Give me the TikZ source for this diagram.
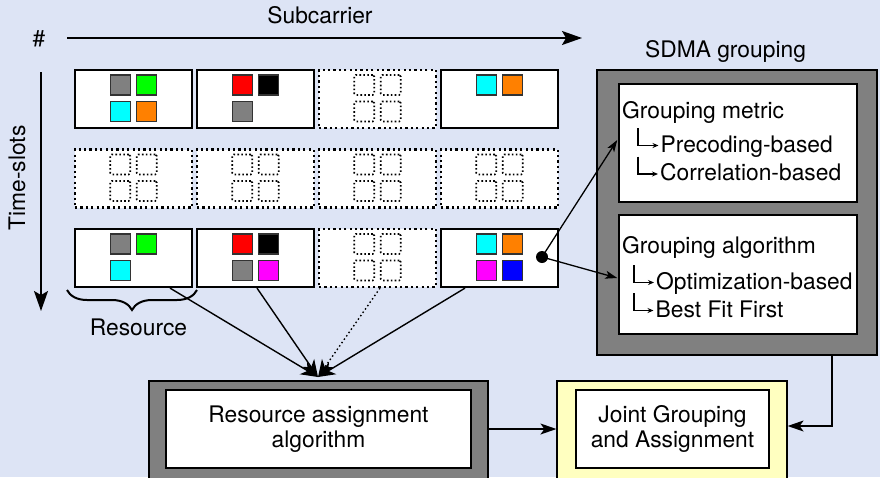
\documentclass[tikz,border=0pt]{standalone}
\usepackage{fontspec}
\setmainfont{TeX Gyre Heros}
\usetikzlibrary{arrows.meta,decorations.pathreplacing,calc}
\definecolor{canvas}{RGB}{221,228,245}
\definecolor{midgray}{RGB}{128,128,128}
\definecolor{paleyellow}{RGB}{255,255,192}
\definecolor{sqorange}{RGB}{255,128,0}
\definecolor{sqgreen}{RGB}{0,255,0}
\definecolor{sqcyan}{RGB}{0,255,255}
\definecolor{sqmagenta}{RGB}{255,0,255}
\definecolor{sqblue}{RGB}{0,0,255}
\definecolor{sqred}{RGB}{255,0,0}
\tikzset{
  slot/.style={draw, line width=2.2pt, fill=white, minimum width=117pt,
    minimum height=58pt, inner sep=0pt},
  emptyslot/.style={slot, line width=2.2pt, dash pattern=on 2.2pt off 3.2pt},
  sq/.style={draw=black!80, line width=1.1pt, minimum size=20pt, inner sep=0pt},
  emptysq/.style={draw, line width=1.6pt, dash pattern=on 1.6pt off 2.3pt,
    minimum size=20pt, inner sep=0pt, rounded corners=1.5pt},
  shell/.style={draw, line width=1.2pt, fill=midgray, inner sep=0pt},
  panel/.style={draw, line width=1.5pt, fill=white, inner sep=0pt, align=center},
  label/.style={inner sep=0pt, anchor=base west},
  axis/.style={line width=1.8pt, -{Stealth[length=20pt,width=14pt,inset=4pt]}},
  feed/.style={line width=1.4pt, -{Stealth[length=17pt,width=14pt,inset=5pt]}},
  link/.style={line width=1.4pt, -{Stealth[length=16pt,width=11pt,inset=4pt]}},
  thinlink/.style={line width=1.3pt, -{Stealth[length=12pt,width=8pt,inset=3pt]}},
  tick/.style={line width=1.2pt, -{Stealth[length=6pt,width=5pt]}},
}
\begin{document}
\begin{tikzpicture}[x=1pt, y=-1pt, font=\fontsize{22.8}{25}\selectfont]
\useasboundingbox (0,0) rectangle (880,477);
\clip (0,0) rectangle (880,477);
\fill[canvas] (0,0) rectangle (880,477);

% axes
\node[inner sep=0pt, anchor=base] (subc) at (320,23) {Subcarrier};
\node[inner sep=0pt, anchor=base] (hash) at (39,46) {\#};
\coordinate (xs) at (67,38);
\coordinate (xe) at (582,38);
\draw[axis] (xs) -- (xe);
\coordinate (ys) at (41,72);
\coordinate (ye) at (41,311);
\draw[axis] (ys) -- (ye);
\node[inner sep=0pt, anchor=base, rotate=90] (tslots) at (25,178) {Time-slots};

% resource grid
\node[slot] (r11) at (133.5,99) {};
\node[slot] (r12) at (255.5,99) {};
\node[emptyslot] (r13) at (377.5,99) {};
\node[slot] (r14) at (499.5,99) {};
\node[emptyslot] (r21) at (133.5,178.5) {};
\node[emptyslot] (r22) at (255.5,178.5) {};
\node[emptyslot] (r23) at (377.5,178.5) {};
\node[emptyslot] (r24) at (499.5,178.5) {};
\node[slot] (r31) at (133.5,258) {};
\node[slot] (r32) at (255.5,258) {};
\node[emptyslot] (r33) at (377.5,258) {};
\node[slot] (r34) at (499.5,258) {};

% unused positions
\foreach \b in {r13,r21,r22,r23,r24,r33}
  \foreach \q/\dx/\dy in {a/-13.25/-14, b/13.25/-14, c/-13.25/12.5, d/13.25/12.5}
    \node[emptysq] (\b\q) at ($(\b)+(\dx,\dy)$) {};

% occupied positions
\foreach \b/\q/\dx/\dy/\col in {
  r11/a/-13.25/-14/midgray, r11/b/13.25/-14/sqgreen, r11/c/-13.25/12.5/sqcyan, r11/d/13.25/12.5/sqorange,
  r12/a/-13.25/-14/sqred, r12/b/13.25/-14/black, r12/c/-13.25/12.5/midgray,
  r14/a/-13.25/-14/sqcyan, r14/b/13.25/-14/sqorange,
  r31/a/-13.25/-14/midgray, r31/b/13.25/-14/sqgreen, r31/c/-13.25/12.5/sqcyan,
  r32/a/-13.25/-14/sqred, r32/b/13.25/-14/black, r32/c/-13.25/12.5/midgray, r32/d/13.25/12.5/sqmagenta,
  r34/a/-13.25/-14/sqcyan, r34/b/13.25/-14/sqorange, r34/c/-13.25/12.5/sqmagenta, r34/d/13.25/12.5/sqblue}
  \node[sq, fill=\col] (\b\q) at ($(\b)+(\dx,\dy)$) {};

% resource brace
\coordinate (bl) at (67,290);
\coordinate (br) at (197,290);
\draw[decorate, decoration={brace, mirror, amplitude=20pt, aspect=0.5}, line width=2pt] (bl) -- (br);
\node[inner sep=0pt, anchor=base] (reslabel) at (138.5,335) {Resource};

% SDMA grouping block
\node[inner sep=0pt, anchor=base] (sdtitle) at (725.5,57) {SDMA grouping};
\node[shell, minimum width=280pt, minimum height=285pt] (sd) at (737,212.5) {};
\node[panel, minimum width=238pt, minimum height=118pt] (gm) at (738,143) {};
\node[panel, minimum width=238pt, minimum height=119pt] (ga) at (738,274.5) {};
\node[label] (gmt) at (622,118) {Grouping metric};
\node[label] (p1) at (660.5,152) {Precoding-based};
\node[label] (p2) at (660,180.5) {Correlation-based};
\node[label] (gat) at (622,253) {Grouping algorithm};
\node[label] (p3) at (656,289) {Optimization-based};
\node[label] (p4) at (655.5,317) {Best Fit First};
\foreach \p/\lx in {p1/-22.5, p2/-22, p3/-22, p4/-21.5}
  \draw[tick] ($(\p.base west)+(\lx,-24)$) |- ($(\p.base west)+(-2,-6.5)$);

% dot on the last resource and its links to the grouping panels
\node[circle, fill=black, minimum size=12pt, inner sep=0pt] (dot) at (542,257) {};
\draw[thinlink] (dot.center) -- ($(gm.west)+(-1,-3)$);
\draw[thinlink] (dot.center) -- ($(ga.west)+(-1,3.5)$);

% resource assignment block
\node[shell, minimum width=339pt, minimum height=114pt] (ra) at (318.5,438) {};
\node[panel, minimum width=305pt, minimum height=78pt] (rai) at (318.5,429)
  {Resource assignment\\algorithm};

% joint block
\node[shell, fill=paleyellow, minimum width=230pt, minimum height=114pt] (jo) at (672,438) {};
\node[panel, minimum width=193pt, minimum height=78pt] (joi) at (672.5,429)
  {Joint Grouping\\and Assignment};

% resources feeding the assignment algorithm
\coordinate (hit) at (318,377);
\draw[feed] ($(r31.south)+(36.5,0)$) -- (hit);
\draw[feed] ($(r32.south)+(1.5,0)$) -- (hit);
\draw[feed, dash pattern=on 1.5pt off 2.6pt] ($(r33.south)+(2.5,0)$) -- (hit);
\draw[feed] ($(r34.south)+(-34.5,0)$) -- (hit);

% into the joint block
\draw[link] (ra.east |- rai.east) -- (jo.west |- rai.east);
\draw[link] ($(sd.south)+(95,0)$) |- ($(jo.east)+(0,-12)$);
\end{tikzpicture}
\end{document}
